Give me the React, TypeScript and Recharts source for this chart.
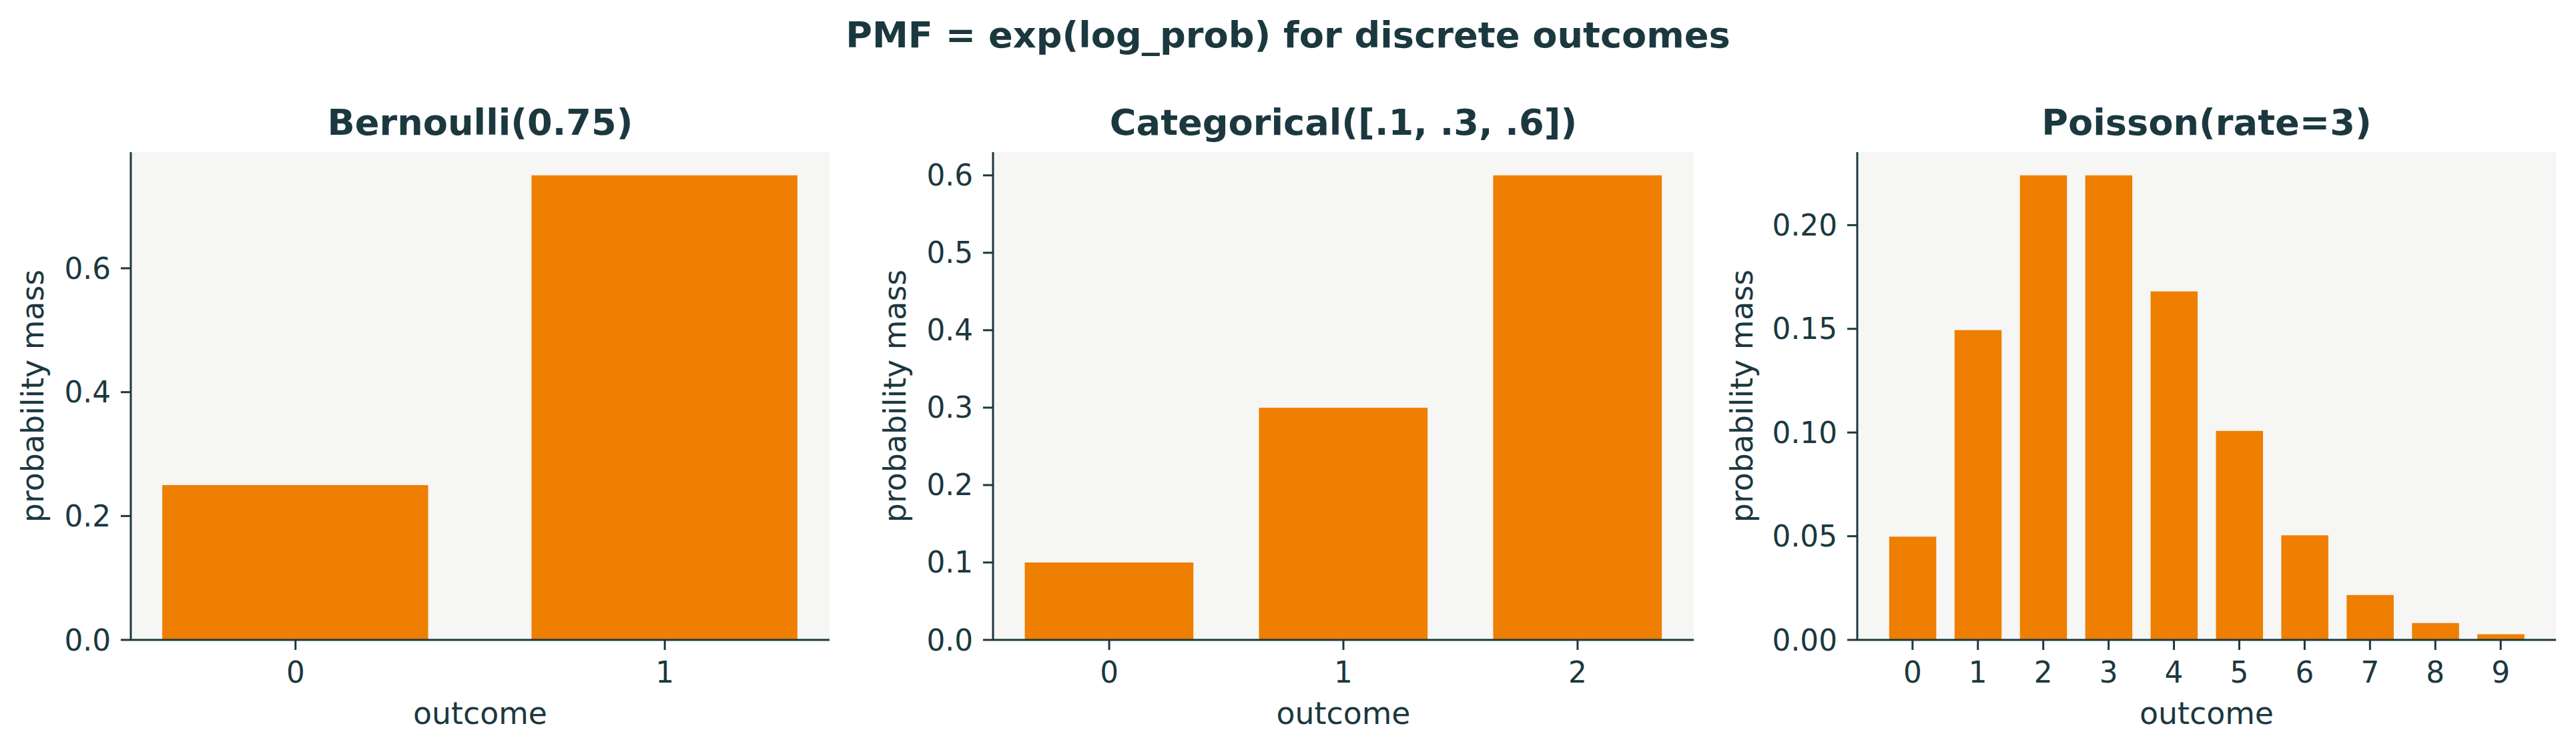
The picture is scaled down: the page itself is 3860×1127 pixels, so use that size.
import React from 'react';
import { BarChart, Bar, XAxis, YAxis, CartesianGrid, Label } from 'recharts';

// ---- data ----
const suptitle = 'PMF = exp(log_prob) for discrete outcomes';

const bernoulliTitle = 'Bernoulli(0.75)';
const bernoulliOutcomes = [0, 1];
const bernoulliProbs = [0.25, 0.75];
const bernoulliYTicks = [0, 0.2, 0.4, 0.6];

const categoricalTitle = 'Categorical([.1, .3, .6])';
const categoricalOutcomes = [0, 1, 2];
const categoricalProbs = [0.1, 0.3, 0.6];
const categoricalYTicks = [0, 0.1, 0.2, 0.3, 0.4, 0.5, 0.6];

const poissonTitle = 'Poisson(rate=3)';
const poissonOutcomes = [0, 1, 2, 3, 4, 5, 6, 7, 8, 9];
const poissonProbs = [0.0498, 0.1494, 0.224, 0.224, 0.168, 0.1008, 0.0504, 0.0216, 0.0081, 0.0027];
const poissonYTicks = [0, 0.05, 0.1, 0.15, 0.2];

const xLabel = 'outcome';
const yLabel = 'probability mass';

// ---- style ----
const W = 3860;
const H = 1127;
const FONT = '"DejaVu Sans", sans-serif';
const INK = '#1b383f';
const ORANGE = '#ee7f00';
const FACE = '#f6f6f4';
const BAR_WIDTH = 0.72;
const PLOT_TOP = 228;
const PLOT_BOTTOM = 959;
const TICK_FS = 43.75;
const LABEL_FS = 45.8;
const TITLE_FS = 54.2;
const Y_AXIS_W = 220;
const X_AXIS_H = 150;
const LEFT_PAD = 240;
const RIGHT_PAD = 20;

type PanelProps = {
  title: string;
  outcomes: number[];
  probs: number[];
  yTicks: number[];
  decimals: number;
  plotLeft: number;
  plotRight: number;
  yLabelOffset: number;
};

function Panel({ title, outcomes, probs, yTicks, decimals, plotLeft, plotRight, yLabelOffset }: PanelProps) {
  const data = outcomes.map((x, i) => ({ x, p: probs[i] }));
  const n = outcomes.length;
  const span = n - 1 + BAR_WIDTH;
  const xMin = -BAR_WIDTH / 2 - 0.05 * span;
  const xMax = n - 1 + BAR_WIDTH / 2 + 0.05 * span;
  const yMax = Math.max(...probs) * 1.05;
  const plotW = plotRight - plotLeft;
  const barSize = (BAR_WIDTH * plotW) / (xMax - xMin);
  const chartLeft = plotLeft - LEFT_PAD;
  const chartW = plotW + LEFT_PAD + RIGHT_PAD;
  const plotCx = LEFT_PAD + plotW / 2;
  const plotCy = (PLOT_TOP + PLOT_BOTTOM) / 2;
  const yLabelX = LEFT_PAD + yLabelOffset;

  return (
    <div style={{ position: 'absolute', left: chartLeft, top: 0, width: chartW, height: H }}>
      <BarChart
        width={chartW}
        height={H}
        data={data}
        margin={{ top: PLOT_TOP, right: RIGHT_PAD, left: LEFT_PAD - Y_AXIS_W, bottom: H - PLOT_BOTTOM - X_AXIS_H }}
      >
        <CartesianGrid fill={FACE} stroke="none" horizontal={false} vertical={false} />
        <XAxis
          dataKey="x"
          type="number"
          domain={[xMin, xMax]}
          ticks={outcomes}
          interval={0}
          allowDataOverflow
          height={X_AXIS_H}
          tickSize={15}
          tickMargin={18}
          axisLine={{ stroke: INK, strokeWidth: 3 }}
          tickLine={{ stroke: INK, strokeWidth: 3 }}
          tick={{ fill: INK, fontSize: TICK_FS, fontFamily: FONT }}
        >
          <Label
            content={() => (
              <text x={plotCx} y={1085} textAnchor="middle" fill={INK} fontSize={LABEL_FS} fontFamily={FONT}>
                {xLabel}
              </text>
            )}
          />
        </XAxis>
        <YAxis
          type="number"
          domain={[0, yMax]}
          ticks={yTicks}
          interval={0}
          allowDataOverflow
          width={Y_AXIS_W}
          tickSize={15}
          tickMargin={15}
          tickFormatter={(v: number) => v.toFixed(decimals)}
          axisLine={{ stroke: INK, strokeWidth: 3 }}
          tickLine={{ stroke: INK, strokeWidth: 3 }}
          tick={{ fill: INK, fontSize: TICK_FS, fontFamily: FONT }}
        >
          <Label
            content={() => (
              <text
                x={yLabelX}
                y={plotCy}
                transform={`rotate(-90 ${yLabelX} ${plotCy})`}
                textAnchor="middle"
                fill={INK}
                fontSize={LABEL_FS}
                fontFamily={FONT}
              >
                {yLabel}
              </text>
            )}
          />
        </YAxis>
        <Bar dataKey="p" fill={ORANGE} barSize={barSize} isAnimationActive={false} />
      </BarChart>
      <svg
        width={chartW}
        height={PLOT_TOP}
        style={{ position: 'absolute', left: 0, top: 0, pointerEvents: 'none' }}
      >
        <text x={plotCx} y={202} textAnchor="middle" fill={INK} fontSize={TITLE_FS} fontWeight="bold" fontFamily={FONT}>
          {title}
        </text>
      </svg>
    </div>
  );
}

export default function App() {
  return (
    <div style={{ position: 'absolute', left: 0, top: 0, width: W, height: H, background: '#ffffff', overflow: 'hidden' }}>
      <svg width={W} height={120} style={{ position: 'absolute', left: 0, top: 0 }}>
        <text x={W / 2} y={71} textAnchor="middle" fill={INK} fontSize={TITLE_FS} fontWeight="bold" fontFamily={FONT}>
          {suptitle}
        </text>
      </svg>
      <Panel
        title={bernoulliTitle}
        outcomes={bernoulliOutcomes}
        probs={bernoulliProbs}
        yTicks={bernoulliYTicks}
        decimals={1}
        plotLeft={196}
        plotRight={1243}
        yLabelOffset={-131}
      />
      <Panel
        title={categoricalTitle}
        outcomes={categoricalOutcomes}
        probs={categoricalProbs}
        yTicks={categoricalYTicks}
        decimals={1}
        plotLeft={1488}
        plotRight={2538}
        yLabelOffset={-131}
      />
      <Panel
        title={poissonTitle}
        outcomes={poissonOutcomes}
        probs={poissonProbs}
        yTicks={poissonYTicks}
        decimals={2}
        plotLeft={2783}
        plotRight={3830}
        yLabelOffset={-157}
      />
    </div>
  );
}
